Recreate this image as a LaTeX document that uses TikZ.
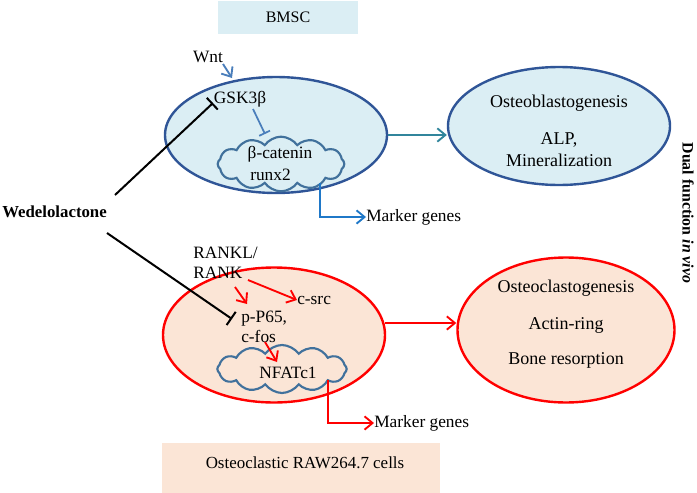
\documentclass[tikz,border=0pt]{standalone}
\usepackage{fontspec}
\setmainfont{Liberation Serif}
\usetikzlibrary{shapes.geometric,shapes.symbols,arrows.meta}
\definecolor{lblue}{HTML}{DBEEF4}
\definecolor{eblue}{HTML}{2F5597}
\definecolor{cblue}{HTML}{41719C}
\definecolor{ablue}{HTML}{4A7EBB}
\definecolor{mblue}{HTML}{1F78C8}
\definecolor{teal}{HTML}{31859C}
\definecolor{salmon}{HTML}{FBE5D6}
\definecolor{bred}{HTML}{FF0000}
\tikzset{
  txt/.style={inner sep=0pt, font=\fontsize{13}{15}\selectfont},
  big/.style={inner sep=0pt, font=\fontsize{13.5}{15}\selectfont},
  cell/.style={ellipse, draw, line width=1.8pt, inner sep=0pt},
  puff/.style={cloud, cloud puffs=12, cloud puff arc=110, aspect=2.3, draw=cblue, line width=1.6pt, inner sep=0pt},
  blk/.style={line width=1.5pt, -{Bar[width=12pt,line width=1.5pt]}},
  redarr/.style={bred, line width=1.4pt, -{Straight Barb[length=6pt,width=10pt,line width=1.4pt]}},
  bluearr/.style={line width=1.4pt, -{Straight Barb[length=6pt,width=10pt,line width=1.4pt]}},
}
\begin{document}
\begin{tikzpicture}[x=0.75pt,y=-0.75pt]
\useasboundingbox (0,0) rectangle (697,493);
% top box
\node[fill=lblue, minimum width=105pt, minimum height=24.75pt, inner sep=0pt] (bmscbox) at (288,17.5) {};
\node[inner sep=0pt, font=\fontsize{12}{14}\selectfont] (bmsc) at (288,17) {BMSC};
% bottom box
\node[fill=salmon, minimum width=208.5pt, minimum height=37.5pt, inner sep=0pt] (ocbox) at (301,468) {};
\node[inner sep=0pt, font=\fontsize{12.7}{14}\selectfont] (oc) at (305,463) {Osteoclastic RAW264.7 cells};

% blue cell
\node[cell, draw=eblue, fill=lblue, minimum width=166.5pt, minimum height=87pt] (cell1) at (276,135) {};
\node[puff, fill=lblue, minimum width=95pt, minimum height=41pt] (cloud1) at (281,164) {};
\node[txt] (wnt) at (208,57) {Wnt};
\node[txt] (gsk) at (240,99) {GSK3β};
\node[txt] (bcat) at (280,154) {β-catenin};
\node[txt, anchor=west] (runx) at (250,175) {runx2};
\coordinate (wntend) at (232,78);
\draw[bluearr, ablue] (223,64) -- (wntend);
\coordinate (gskinh) at (265,134);
\draw[ablue, line width=1.3pt, -{Bar[width=9pt,line width=1.3pt]}] (253,109) -- (gskinh);

% osteoblast ellipse
\node[cell, draw=eblue, fill=lblue, minimum width=166.5pt, minimum height=88.5pt] (ob) at (559,126) {};
\node[big] (obt1) at (559,103) {Osteoblastogenesis};
\node[big] (obt2) at (559,140) {ALP,};
\node[big] (obt3) at (559,160) {Mineralization};
\draw[bluearr, teal] (cell1.east) -- (ob.west |- cell1.east);

% marker genes 1
\node[txt, anchor=west] (mg1) at (366,217) {Marker genes};
\coordinate (mg1s) at (320,183);
\draw[bluearr, mblue] (mg1s) |- (mg1.west);

% red cell
\node[cell, draw=bred, fill=salmon, minimum width=166.5pt, minimum height=101.25pt] (cell2) at (274,335) {};
\node[puff, fill=salmon, minimum width=97pt, minimum height=36pt] (cloud2) at (282,369) {};
\node[txt, anchor=west, align=left] (rankl) at (193,263) {RANKL/\\RANK};
\node[txt, anchor=west] (csrc) at (297,300) {c-src};
\node[txt, anchor=west, align=left] (p65) at (241,327) {p-P65,\\c-fos};
\node[txt] (nfat) at (288,373) {NFATc1};
\draw[redarr] (248,280) -- (csrc.west);
\draw[redarr] (235,287) -- (247,304);
\draw[redarr] (265,342) -- (277,362);

% osteoclast ellipse
\node[cell, draw=bred, fill=salmon, minimum width=162.75pt, minimum height=108.75pt] (ocl) at (566,330) {};
\node[big] (oct1) at (566,288) {Osteoclastogenesis};
\node[big] (oct2) at (566,325) {Actin-ring};
\node[big] (oct3) at (566,360) {Bone resorption};
\coordinate (c2e) at (385,323);
\draw[redarr] (c2e) -- (ocl.west |- c2e);

% marker genes 2
\node[txt, anchor=west] (mg2) at (374,423) {Marker genes};
\coordinate (mg2s) at (328,380);
\draw[redarr] (mg2s) |- (mg2.west);

% Wedelolactone
\node[anchor=west, inner sep=0pt, font=\fontsize{12.6}{14}\selectfont\bfseries] (wed) at (2,212) {Wedelolactone};
\coordinate (inh1) at (213,103);
\coordinate (inh2) at (232,319);
\draw[blk] (115,195) -- (inh1);
\draw[blk] (107,233) -- (inh2);

% side label
\node[inner sep=0pt, rotate=-90, font=\fontsize{11.9}{13}\selectfont\bfseries] (dual) at (688,213) {Dual function \textit{in vivo}};
\end{tikzpicture}
\end{document}
